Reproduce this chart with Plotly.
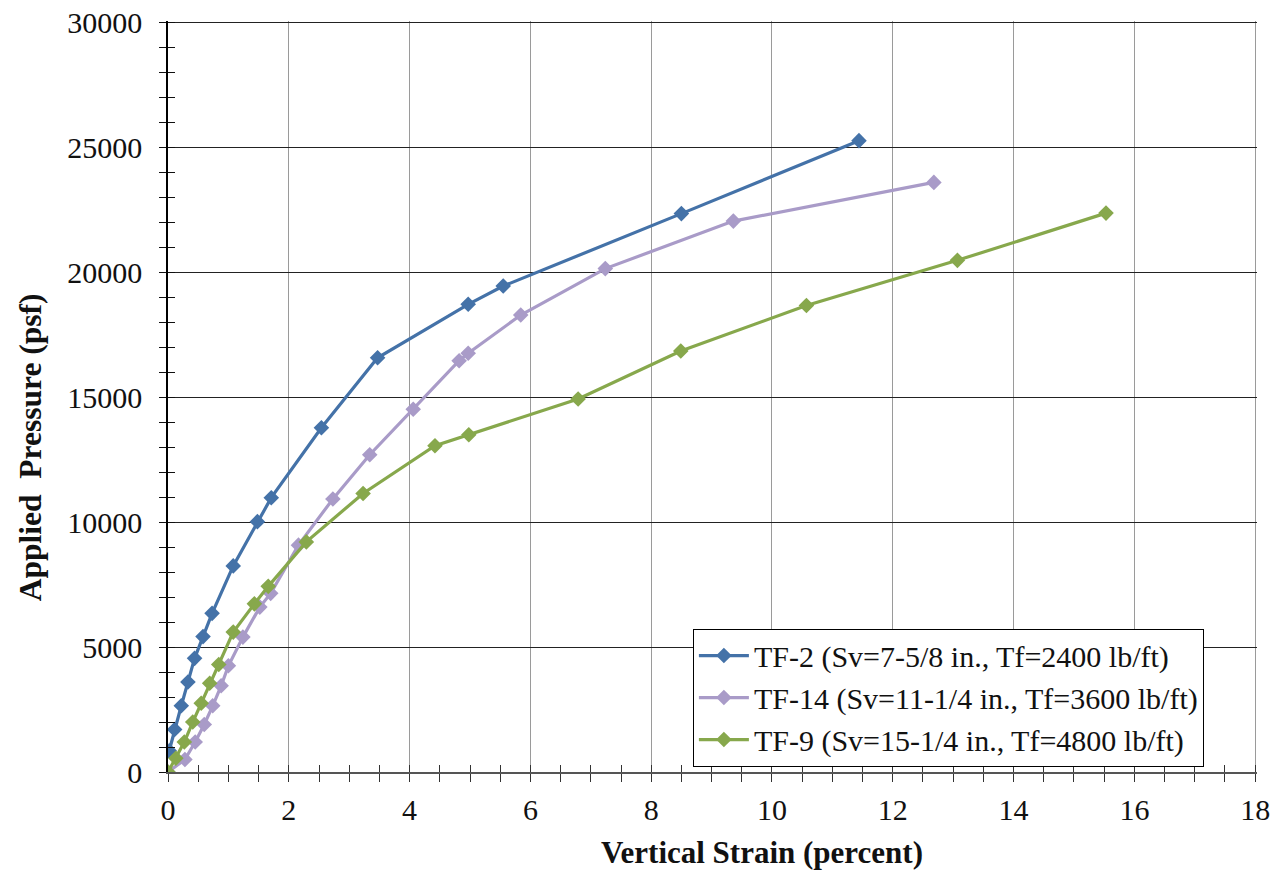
import plotly.graph_objects as go

# TF-2 (Sv=7-5/8 in., Tf=2400 lb/ft)
tf2_x = [0.02, 0.11, 0.22, 0.33, 0.44, 0.58, 0.73, 1.08, 1.48, 1.71, 2.54, 3.47, 4.97, 5.55, 8.50, 11.44]
tf2_y = [850, 1700, 2650, 3600, 4550, 5420, 6350, 8250, 10020, 10980, 13780, 16580, 18720, 19450, 22350, 25270]

# TF-14 (Sv=11-1/4 in., Tf=3600 lb/ft)
tf14_x = [0.0, 0.28, 0.45, 0.60, 0.74, 0.88, 1.00, 1.24, 1.52, 1.70, 2.16, 2.73, 3.34, 4.06, 4.82, 4.97, 5.84, 7.24, 9.36, 12.68]
tf14_y = [0, 500, 1200, 1900, 2650, 3450, 4250, 5400, 6600, 7150, 9080, 10930, 12700, 14520, 16460, 16760, 18290, 20150, 22050, 23600]

# TF-9 (Sv=15-1/4 in., Tf=4800 lb/ft)
tf9_x = [0.0, 0.13, 0.27, 0.41, 0.55, 0.69, 0.84, 1.08, 1.43, 1.66, 2.29, 3.23, 4.42, 4.98, 6.79, 8.49, 10.57, 13.07, 15.53]
tf9_y = [0, 550, 1200, 2000, 2750, 3550, 4300, 5600, 6730, 7430, 9210, 11150, 13060, 13500, 14930, 16850, 18670, 20480, 22370]

series_names = [
    "TF-2 (Sv=7-5/8 in., Tf=2400 lb/ft)",
    "TF-14 (Sv=11-1/4 in., Tf=3600 lb/ft)",
    "TF-9 (Sv=15-1/4 in., Tf=4800 lb/ft)",
]
colors = ["#4472A8", "#A99BC8", "#87A84C"]

x_title = "Vertical Strain (percent)"
y_title = "Applied\u00a0 Pressure (psf)"

x_range = [0, 18.03]
y_range = [0, 30060]

fig = go.Figure()
for xs, ys, name, c in zip([tf2_x, tf14_x, tf9_x], [tf2_y, tf14_y, tf9_y], series_names, colors):
    fig.add_trace(go.Scatter(
        x=xs, y=ys, name=name, mode="lines+markers",
        line=dict(color=c, width=3.2),
        marker=dict(symbol="diamond", size=12, color=c),
    ))

font_family = "Liberation Serif, Times New Roman, serif"

fig.update_layout(
    width=1277, height=865,
    margin=dict(l=160, r=28.2, t=12.5, b=101),
    paper_bgcolor="white", plot_bgcolor="white",
    font=dict(family=font_family, size=30, color="#111111"),
    showlegend=True,
    legend=dict(
        x=0.482, y=0.191, xanchor="left", yanchor="top",
        bgcolor="white", bordercolor="#000000", borderwidth=1,
        font=dict(family=font_family, size=30, color="#111111"),
        tracegroupgap=0, itemwidth=50,
    ),
    xaxis=dict(
        range=x_range, dtick=2, tick0=0, automargin=False,
        showgrid=True, gridcolor="#9a9a9a", gridwidth=1,
        showline=True, linecolor="#555555", linewidth=1.5,
        ticks="outside", ticklen=8, tickcolor="#333333",
        minor=dict(dtick=0.5, ticks="outside", ticklen=8, tickcolor="#333333", showgrid=False),
        zeroline=False, ticklabeloverflow="allow", ticklabelstandoff=2,
        tickfont=dict(family=font_family, size=30, color="#111111"),
    ),
    yaxis=dict(
        range=y_range, dtick=5000, tick0=0, tickformat="d", automargin=False,
        showgrid=True, gridcolor="#222222", gridwidth=1.2,
        showline=True, linecolor="#000000", linewidth=1.5,
        ticks="outside", ticklen=7, tickcolor="#111111",
        minor=dict(dtick=1000, ticks="outside", ticklen=7, tickcolor="#111111", showgrid=False),
        zeroline=False, ticklabeloverflow="allow", ticklabelstandoff=11,
        tickfont=dict(family=font_family, size=30, color="#111111"),
    ),
    # overlay axes used only to draw the inner half of the crossing tick marks
    xaxis2=dict(
        overlaying="x", matches="x", side="bottom", automargin=False,
        showgrid=False, showline=False, zeroline=False, showticklabels=False,
        ticks="inside", ticklen=7, tickcolor="#333333", dtick=2, tick0=0,
        minor=dict(dtick=0.5, ticks="inside", ticklen=7, tickcolor="#333333", showgrid=False),
    ),
    yaxis2=dict(
        overlaying="y", matches="y", side="left", automargin=False,
        showgrid=False, showline=False, zeroline=False, showticklabels=False,
        ticks="inside", ticklen=7, tickcolor="#111111", dtick=5000, tick0=0,
        minor=dict(dtick=1000, ticks="inside", ticklen=7, tickcolor="#111111", showgrid=False),
    ),
    annotations=[
        dict(text="<b>" + x_title + "</b>", xref="paper", yref="paper",
             x=0.5456, y=-0.1067, xanchor="center", yanchor="middle", showarrow=False,
             font=dict(family=font_family, size=31, color="#111111")),
        dict(text="<b>" + y_title + "</b>", xref="paper", yref="paper", textangle=-90,
             x=-0.1267, y=0.4325, xanchor="center", yanchor="middle", showarrow=False,
             font=dict(family=font_family, size=31.5, color="#111111")),
    ],
)

# invisible helper trace so the overlay axes are rendered
fig.add_trace(go.Scatter(x=[None], y=[None], xaxis="x2", yaxis="y2",
                         showlegend=False, hoverinfo="skip"))

fig.write_html("out.html")
